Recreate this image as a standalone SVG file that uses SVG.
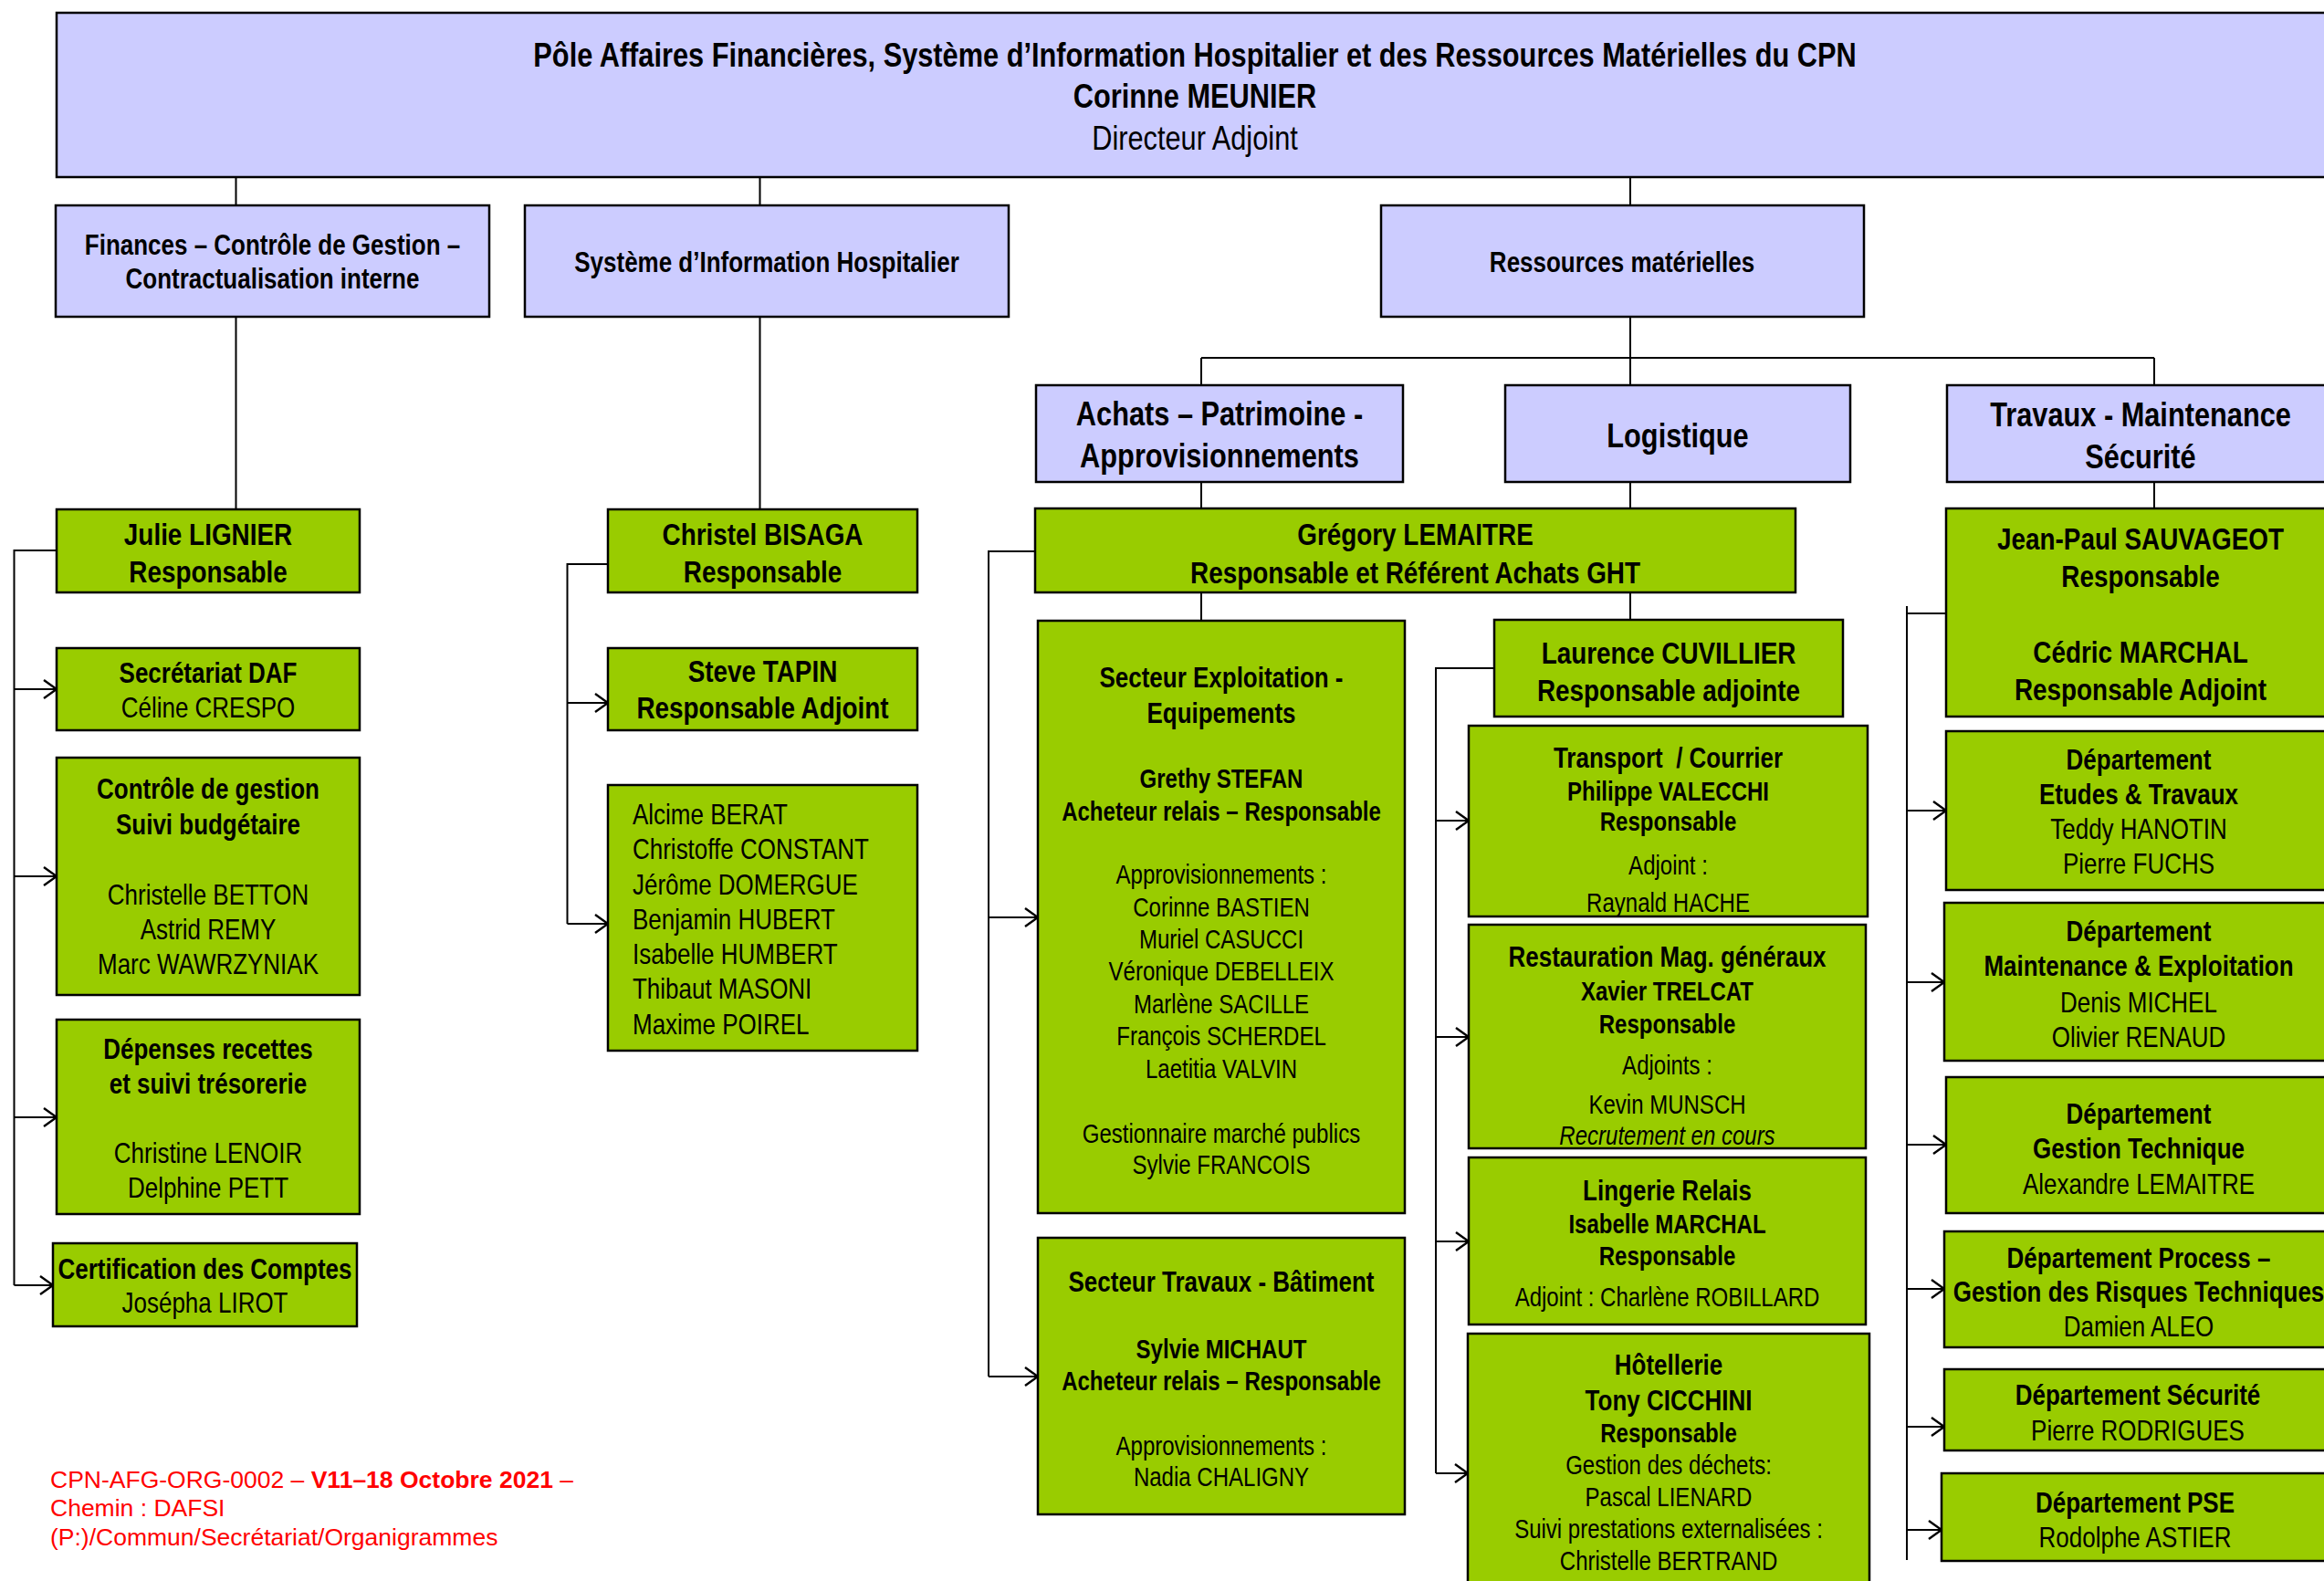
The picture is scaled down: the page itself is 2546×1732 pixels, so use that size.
<svg xmlns="http://www.w3.org/2000/svg" width="2546" height="1732" viewBox="0 0 2546 1732">
<defs>
<style>
.lav{fill:#CCCCFF;stroke:#000;stroke-width:2.5}
.grn{fill:#99CC00;stroke:#000;stroke-width:2.5}
text{font-family:"Liberation Sans",Arial,sans-serif;fill:#000}
.c{text-anchor:middle}
.b{font-weight:bold}
.it{font-style:italic}
.f375{font-size:37.5px}
.f34{font-size:34px}
.f317{font-size:31.7px}
.f293{font-size:29.3px}
.ln{stroke:#000;stroke-width:2;fill:none}
.ar{marker-end:url(#ah)}
.foot{font-size:26.5px;fill:#FF0000}
</style>
<marker id="ah" markerUnits="userSpaceOnUse" markerWidth="18" markerHeight="24" refX="15" refY="12" orient="auto" viewBox="0 0 18 24">
<path d="M1,2 L15,12 L1,22" fill="none" stroke="#000" stroke-width="2.4"/>
</marker>
</defs>
<rect width="2546" height="1732" fill="#fff"/>

<g id="connectors">
<path class="ln" d="M258.5,194V225M832.5,194V225M1786,194V225"/>
<path class="ln" d="M258.5,347V558M832.5,347V558"/>
<path class="ln" d="M1786,347V422M1316,392H2360M1316,392V422M2360,392V422"/>
<path class="ln" d="M1316,528V557M1786,528V557M2360,528V557"/>
<path class="ln" d="M1316,649V680M1786,649V679"/>
<path class="ln" d="M62,603H15.5V1408"/>
<path class="ln ar" d="M15.5,755H62"/>
<path class="ln ar" d="M15.5,960H62"/>
<path class="ln ar" d="M15.5,1224H62"/>
<path class="ln ar" d="M15.5,1408H58"/>
<path class="ln" d="M666,618H621.5V1012"/>
<path class="ln ar" d="M621.5,770H666"/>
<path class="ln ar" d="M621.5,1012H666"/>
<path class="ln" d="M1134,604H1083V1508"/>
<path class="ln ar" d="M1083,1005H1137"/>
<path class="ln ar" d="M1083,1508H1137"/>
<path class="ln" d="M1637,732H1573V1614"/>
<path class="ln ar" d="M1573,899H1609"/>
<path class="ln ar" d="M1573,1136H1609"/>
<path class="ln ar" d="M1573,1360H1609"/>
<path class="ln ar" d="M1573,1614H1608"/>
<path class="ln" d="M2132,672H2089M2089,664V1709"/>
<path class="ln ar" d="M2089,888H2132"/>
<path class="ln ar" d="M2089,1076H2130"/>
<path class="ln ar" d="M2089,1254H2132"/>
<path class="ln ar" d="M2089,1412H2130"/>
<path class="ln ar" d="M2089,1563H2130"/>
<path class="ln ar" d="M2089,1676H2127"/>
</g>

<g id="pole">
<rect class="lav" x="62" y="14" width="2500" height="180"/>
<g transform="translate(1309,0) scale(0.82,1)">
<text class="c b f375" x="0" y="73">Pôle Affaires Financières, Système d’Information Hospitalier et des Ressources Matérielles du CPN</text>
<text class="c b f375" x="0" y="118">Corinne MEUNIER</text>
<text class="c f375" x="0" y="164">Directeur Adjoint</text>
</g>
</g>

<g id="finances">
<rect class="lav" x="61" y="225" width="475" height="122"/>
<g transform="translate(298.5,0) scale(0.82,1)">
<text class="c b f317" x="0" y="279">Finances – Contrôle de Gestion –</text>
<text class="c b f317" x="0" y="316">Contractualisation interne</text>
</g>
</g>

<g id="sih">
<rect class="lav" x="575" y="225" width="530" height="122"/>
<g transform="translate(840,0) scale(0.82,1)">
<text class="c b f317" x="0" y="298">Système d’Information Hospitalier</text>
</g>
</g>

<g id="ressources">
<rect class="lav" x="1513" y="225" width="529" height="122"/>
<g transform="translate(1777,0) scale(0.82,1)">
<text class="c b f317" x="0" y="298">Ressources matérielles</text>
</g>
</g>

<g id="achats">
<rect class="lav" x="1135" y="422" width="402" height="106"/>
<g transform="translate(1336,0) scale(0.82,1)">
<text class="c b f375" x="0" y="466">Achats – Patrimoine -</text>
<text class="c b f375" x="0" y="512">Approvisionnements</text>
</g>
</g>

<g id="logistique">
<rect class="lav" x="1649" y="422" width="378" height="106"/>
<g transform="translate(1838,0) scale(0.82,1)">
<text class="c b f375" x="0" y="490">Logistique</text>
</g>
</g>

<g id="travaux">
<rect class="lav" x="2133" y="422" width="430" height="106"/>
<g transform="translate(2345,0) scale(0.82,1)">
<text class="c b f375" x="0" y="467">Travaux - Maintenance</text>
<text class="c b f375" x="0" y="513">Sécurité</text>
</g>
</g>

<g id="julie">
<rect class="grn" x="62" y="558" width="332" height="91"/>
<g transform="translate(228,0) scale(0.82,1)">
<text class="c b f34" x="0" y="597">Julie LIGNIER</text>
<text class="c b f34" x="0" y="638">Responsable</text>
</g>
</g>

<g id="secretariat">
<rect class="grn" x="62" y="710" width="332" height="90"/>
<g transform="translate(228,0) scale(0.82,1)">
<text class="c b f317" x="0" y="748.5">Secrétariat DAF</text>
<text class="c f317" x="0" y="786">Céline CRESPO</text>
</g>
</g>

<g id="controle">
<rect class="grn" x="62" y="830" width="332" height="260"/>
<g transform="translate(228,0) scale(0.82,1)">
<text class="c b f317" x="0" y="875">Contrôle de gestion</text>
<text class="c b f317" x="0" y="914.5">Suivi budgétaire</text>
<text class="c f317" x="0" y="991">Christelle BETTON</text>
<text class="c f317" x="0" y="1029">Astrid REMY</text>
<text class="c f317" x="0" y="1067">Marc WAWRZYNIAK</text>
</g>
</g>

<g id="depenses">
<rect class="grn" x="62" y="1117" width="332" height="213"/>
<g transform="translate(228,0) scale(0.82,1)">
<text class="c b f317" x="0" y="1160">Dépenses recettes</text>
<text class="c b f317" x="0" y="1198">et suivi trésorerie</text>
<text class="c f317" x="0" y="1274">Christine LENOIR</text>
<text class="c f317" x="0" y="1312">Delphine PETT</text>
</g>
</g>

<g id="certification">
<rect class="grn" x="58" y="1362" width="333" height="91"/>
<g transform="translate(224.5,0) scale(0.82,1)">
<text class="c b f317" x="0" y="1401">Certification des Comptes</text>
<text class="c f317" x="0" y="1438">Josépha LIROT</text>
</g>
</g>

<g id="christel">
<rect class="grn" x="666" y="558" width="339" height="91"/>
<g transform="translate(835.5,0) scale(0.82,1)">
<text class="c b f34" x="0" y="597">Christel BISAGA</text>
<text class="c b f34" x="0" y="638">Responsable</text>
</g>
</g>

<g id="steve">
<rect class="grn" x="666" y="710" width="339" height="90"/>
<g transform="translate(835.5,0) scale(0.82,1)">
<text class="c b f34" x="0" y="747">Steve TAPIN</text>
<text class="c b f34" x="0" y="787">Responsable Adjoint</text>
</g>
</g>

<g id="sih-equipe">
<rect class="grn" x="666" y="860" width="339" height="291"/>
<g transform="translate(693,0) scale(0.82,1)">
<text class="f317" x="0" y="903">Alcime BERAT</text>
<text class="f317" x="0" y="941">Christoffe CONSTANT</text>
<text class="f317" x="0" y="980">Jérôme DOMERGUE</text>
<text class="f317" x="0" y="1018">Benjamin HUBERT</text>
<text class="f317" x="0" y="1056">Isabelle HUMBERT</text>
<text class="f317" x="0" y="1094.5">Thibaut MASONI</text>
<text class="f317" x="0" y="1133">Maxime POIREL</text>
</g>
</g>

<g id="gregory">
<rect class="grn" x="1134" y="557" width="833" height="92"/>
<g transform="translate(1550.5,0) scale(0.82,1)">
<text class="c b f34" x="0" y="597">Grégory LEMAITRE</text>
<text class="c b f34" x="0" y="639">Responsable et Référent Achats GHT</text>
</g>
</g>

<g id="exploitation">
<rect class="grn" x="1137" y="680" width="402" height="649"/>
<g transform="translate(1338,0) scale(0.82,1)">
<text class="c b f317" x="0" y="753.5">Secteur Exploitation -</text>
<text class="c b f317" x="0" y="792">Equipements</text>
<text class="c b f293" x="0" y="863.5">Grethy STEFAN</text>
<text class="c b f293" x="0" y="899.5">Acheteur relais – Responsable</text>
<text class="c f293" x="0" y="968.5">Approvisionnements :</text>
<text class="c f293" x="0" y="1004">Corinne BASTIEN</text>
<text class="c f293" x="0" y="1039.5">Muriel CASUCCI</text>
<text class="c f293" x="0" y="1074.5">Véronique DEBELLEIX</text>
<text class="c f293" x="0" y="1110">Marlène SACILLE</text>
<text class="c f293" x="0" y="1145.5">François SCHERDEL</text>
<text class="c f293" x="0" y="1181">Laetitia VALVIN</text>
<text class="c f293" x="0" y="1252">Gestionnaire marché publics</text>
<text class="c f293" x="0" y="1286">Sylvie FRANCOIS</text>
</g>
</g>

<g id="batiment">
<rect class="grn" x="1137" y="1356" width="402" height="303"/>
<g transform="translate(1338,0) scale(0.82,1)">
<text class="c b f317" x="0" y="1415">Secteur Travaux - Bâtiment</text>
<text class="c b f293" x="0" y="1488">Sylvie MICHAUT</text>
<text class="c b f293" x="0" y="1523.5">Acheteur relais – Responsable</text>
<text class="c f293" x="0" y="1594">Approvisionnements :</text>
<text class="c f293" x="0" y="1628.5">Nadia CHALIGNY</text>
</g>
</g>

<g id="laurence">
<rect class="grn" x="1637" y="679" width="382" height="106"/>
<g transform="translate(1828,0) scale(0.82,1)">
<text class="c b f34" x="0" y="727.5">Laurence CUVILLIER</text>
<text class="c b f34" x="0" y="768">Responsable adjointe</text>
</g>
</g>

<g id="transport">
<rect class="grn" x="1609" y="795" width="437" height="209"/>
<g transform="translate(1827.5,0) scale(0.82,1)">
<text class="c b f317" x="0" y="841" xml:space="preserve">Transport  / Courrier</text>
<text class="c b f293" x="0" y="877">Philippe VALECCHI</text>
<text class="c b f293" x="0" y="910.5">Responsable</text>
<text class="c f293" x="0" y="958.5">Adjoint :</text>
<text class="c f293" x="0" y="999">Raynald HACHE</text>
</g>
</g>

<g id="restauration">
<rect class="grn" x="1609" y="1013" width="435" height="245"/>
<g transform="translate(1826.5,0) scale(0.82,1)">
<text class="c b f317" x="0" y="1059">Restauration Mag. généraux</text>
<text class="c b f293" x="0" y="1096">Xavier TRELCAT</text>
<text class="c b f293" x="0" y="1132.5">Responsable</text>
<text class="c f293" x="0" y="1177.5">Adjoints :</text>
<text class="c f293" x="0" y="1220">Kevin MUNSCH</text>
<text class="c it f293" x="0" y="1254.5">Recrutement en cours</text>
</g>
</g>

<g id="lingerie">
<rect class="grn" x="1609" y="1268" width="435" height="183"/>
<g transform="translate(1826.5,0) scale(0.82,1)">
<text class="c b f317" x="0" y="1315">Lingerie Relais</text>
<text class="c b f293" x="0" y="1351">Isabelle MARCHAL</text>
<text class="c b f293" x="0" y="1386.5">Responsable</text>
<text class="c f293" x="0" y="1431.5">Adjoint : Charlène ROBILLARD</text>
</g>
</g>

<g id="hotellerie">
<rect class="grn" x="1608" y="1461" width="440" height="290"/>
<g transform="translate(1828,0) scale(0.82,1)">
<text class="c b f317" x="0" y="1506">Hôtellerie</text>
<text class="c b f317" x="0" y="1545">Tony CICCHINI</text>
<text class="c b f293" x="0" y="1580.5">Responsable</text>
<text class="c f293" x="0" y="1615.5">Gestion des déchets:</text>
<text class="c f293" x="0" y="1650.5">Pascal LIENARD</text>
<text class="c f293" x="0" y="1685">Suivi prestations externalisées :</text>
<text class="c f293" x="0" y="1720">Christelle BERTRAND</text>
</g>
</g>

<g id="jean-paul">
<rect class="grn" x="2132" y="557" width="430" height="228"/>
<g transform="translate(2345,0) scale(0.82,1)">
<text class="c b f34" x="0" y="602.5">Jean-Paul SAUVAGEOT</text>
<text class="c b f34" x="0" y="643">Responsable</text>
<text class="c b f34" x="0" y="726.5">Cédric MARCHAL</text>
<text class="c b f34" x="0" y="767">Responsable Adjoint</text>
</g>
</g>

<g id="etudes">
<rect class="grn" x="2132" y="801" width="430" height="174"/>
<g transform="translate(2343,0) scale(0.82,1)">
<text class="c b f317" x="0" y="843">Département</text>
<text class="c b f317" x="0" y="881">Etudes &amp; Travaux</text>
<text class="c f317" x="0" y="919">Teddy HANOTIN</text>
<text class="c f317" x="0" y="957">Pierre FUCHS</text>
</g>
</g>

<g id="maintenance">
<rect class="grn" x="2130" y="989" width="432" height="173"/>
<g transform="translate(2343,0) scale(0.82,1)">
<text class="c b f317" x="0" y="1031">Département</text>
<text class="c b f317" x="0" y="1069">Maintenance &amp; Exploitation</text>
<text class="c f317" x="0" y="1109.5">Denis MICHEL</text>
<text class="c f317" x="0" y="1147.5">Olivier RENAUD</text>
</g>
</g>

<g id="gestion-technique">
<rect class="grn" x="2132" y="1180" width="430" height="149"/>
<g transform="translate(2343,0) scale(0.82,1)">
<text class="c b f317" x="0" y="1231">Département</text>
<text class="c b f317" x="0" y="1269.5">Gestion Technique</text>
<text class="c f317" x="0" y="1308">Alexandre LEMAITRE</text>
</g>
</g>

<g id="process">
<rect class="grn" x="2130" y="1349" width="432" height="127"/>
<g transform="translate(2343,0) scale(0.82,1)">
<text class="c b f317" x="0" y="1389">Département Process –</text>
<text class="c b f317" x="0" y="1426">Gestion des Risques Techniques</text>
<text class="c f317" x="0" y="1464">Damien ALEO</text>
</g>
</g>

<g id="securite">
<rect class="grn" x="2130" y="1500" width="432" height="89"/>
<g transform="translate(2342,0) scale(0.82,1)">
<text class="c b f317" x="0" y="1539">Département Sécurité</text>
<text class="c f317" x="0" y="1578">Pierre RODRIGUES</text>
</g>
</g>

<g id="pse">
<rect class="grn" x="2127" y="1614" width="435" height="96"/>
<g transform="translate(2339,0) scale(0.82,1)">
<text class="c b f317" x="0" y="1657">Département PSE</text>
<text class="c f317" x="0" y="1695">Rodolphe ASTIER</text>
</g>
</g>

<g id="footer">
<text class="foot" x="55" y="1629.5">CPN-AFG-ORG-0002 – <tspan font-weight="bold">V11–18 Octobre 2021</tspan> –</text>
<text class="foot" x="55" y="1661">Chemin : DAFSI</text>
<text class="foot" x="55" y="1693">(P:)/Commun/Secrétariat/Organigrammes</text>
</g>
</svg>
